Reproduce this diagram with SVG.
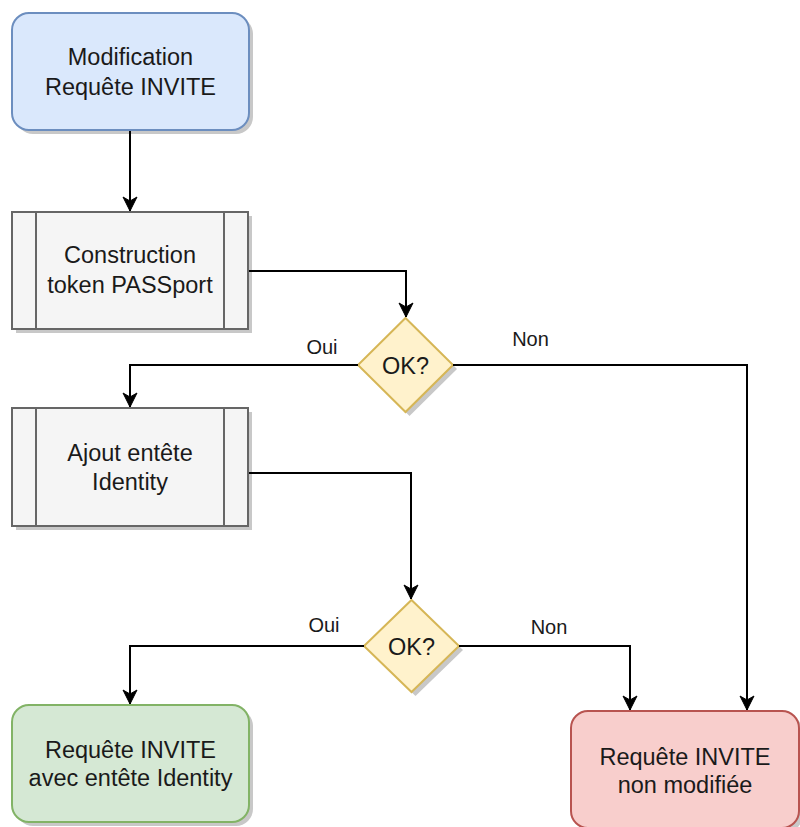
<svg xmlns="http://www.w3.org/2000/svg" width="800" height="827" viewBox="0 0 800 827">
  <style>
    .shadow { fill: #c8c8c8; stroke: none; }
    .txt { font-family: "Liberation Sans", Arial, sans-serif; font-size: 23.5px; fill: #1a1a1a; text-anchor: middle; }
    .lbl { font-family: "Liberation Sans", Arial, sans-serif; font-size: 20px; fill: #1a1a1a; text-anchor: middle; }
    .edge { fill: none; stroke: #000; stroke-width: 2; }
    .start { fill: #dae8fc; stroke: #6c8ebf; stroke-width: 2; }
    .proc { fill: #f5f5f5; stroke: #666; stroke-width: 2; }
    .dec { fill: #fff2cc; stroke: #d6b656; stroke-width: 2; }
    .ok { fill: #d5e8d4; stroke: #82b366; stroke-width: 2; }
    .ko { fill: #f8cecc; stroke: #b85450; stroke-width: 2; }
  </style>
  <defs>
    <marker id="arrow" viewBox="-15 -8 16 16" markerWidth="16" markerHeight="16" refX="0" refY="0" orient="auto" markerUnits="userSpaceOnUse">
      <path d="M0,0 L-14,-7 L-10,0 L-14,7 z" fill="#000" stroke="#000" stroke-width="1"/>
    </marker>
    <filter id="soft" x="-10%" y="-10%" width="130%" height="130%">
      <feGaussianBlur stdDeviation="0.5"/>
    </filter>
  </defs>

  <!-- Start: modification of the INVITE request -->
  <g id="start">
    <rect class="shadow" filter="url(#soft)" x="16" y="17" width="237" height="117" rx="17"/>
    <rect class="start" x="12" y="13" width="237" height="117" rx="17"/>
    <text class="txt" x="130.5" y="65">Modification</text>
    <text class="txt" x="130.5" y="95">Requête INVITE</text>
  </g>

  <!-- Process: build PASSporT token -->
  <g id="build-token">
    <rect class="shadow" filter="url(#soft)" x="16" y="216" width="236" height="117"/>
    <rect class="proc" x="12" y="212" width="236" height="117"/>
    <line class="proc" x1="36" y1="212" x2="36" y2="329"/>
    <line class="proc" x1="224" y1="212" x2="224" y2="329"/>
    <text class="txt" x="130" y="263">Construction</text>
    <text class="txt" x="130" y="293">token PASSport</text>
  </g>

  <!-- Decision 1 -->
  <g id="check-token">
    <polygon class="shadow" filter="url(#soft)" points="409.5,322 457,369 409.5,416 362,369"/>
    <polygon class="dec" points="405.5,318 453,365 405.5,412 358,365"/>
    <text class="txt" x="405.5" y="374">OK?</text>
  </g>

  <!-- Process: add Identity header -->
  <g id="add-identity">
    <rect class="shadow" filter="url(#soft)" x="16" y="412" width="236" height="118"/>
    <rect class="proc" x="12" y="408" width="236" height="118"/>
    <line class="proc" x1="36" y1="408" x2="36" y2="526"/>
    <line class="proc" x1="224" y1="408" x2="224" y2="526"/>
    <text class="txt" x="130" y="461">Ajout entête</text>
    <text class="txt" x="130" y="490">Identity</text>
  </g>

  <!-- Decision 2 -->
  <g id="check-identity">
    <polygon class="shadow" filter="url(#soft)" points="415.5,604 463,650 415.5,696 368,650"/>
    <polygon class="dec" points="411.5,600 459,646 411.5,692 364,646"/>
    <text class="txt" x="411.5" y="655">OK?</text>
  </g>

  <!-- End: INVITE with Identity header -->
  <g id="end-ok">
    <rect class="shadow" filter="url(#soft)" x="16" y="709" width="237" height="117" rx="17"/>
    <rect class="ok" x="12" y="705" width="237" height="117" rx="17"/>
    <text class="txt" x="130.5" y="758">Requête INVITE</text>
    <text class="txt" x="130.5" y="786">avec entête Identity</text>
  </g>

  <!-- End: INVITE left unchanged -->
  <g id="end-ko">
    <rect class="shadow" filter="url(#soft)" x="575" y="715" width="228" height="117" rx="17"/>
    <rect class="ko" x="571" y="711" width="228" height="117" rx="17"/>
    <text class="txt" x="685" y="765">Requête INVITE</text>
    <text class="txt" x="685" y="793">non modifiée</text>
  </g>

  <!-- Connectors -->
  <g id="connectors">
    <path class="edge" marker-end="url(#arrow)" d="M130,131 L130,211"/>
    <path class="edge" marker-end="url(#arrow)" d="M249,271 L406,271 L406,317"/>
    <path class="edge" marker-end="url(#arrow)" d="M358,365 L130,365 L130,407"/>
    <path class="edge" marker-end="url(#arrow)" d="M453,365 L747,365 L747,710"/>
    <path class="edge" marker-end="url(#arrow)" d="M249,473 L411,473 L411,599"/>
    <path class="edge" marker-end="url(#arrow)" d="M364,646 L130,646 L130,704"/>
    <path class="edge" marker-end="url(#arrow)" d="M459,646 L630,646 L630,710"/>
    <text class="lbl" x="322" y="354">Oui</text>
    <text class="lbl" x="530.5" y="346">Non</text>
    <text class="lbl" x="324" y="632">Oui</text>
    <text class="lbl" x="549" y="634">Non</text>
  </g>
</svg>
